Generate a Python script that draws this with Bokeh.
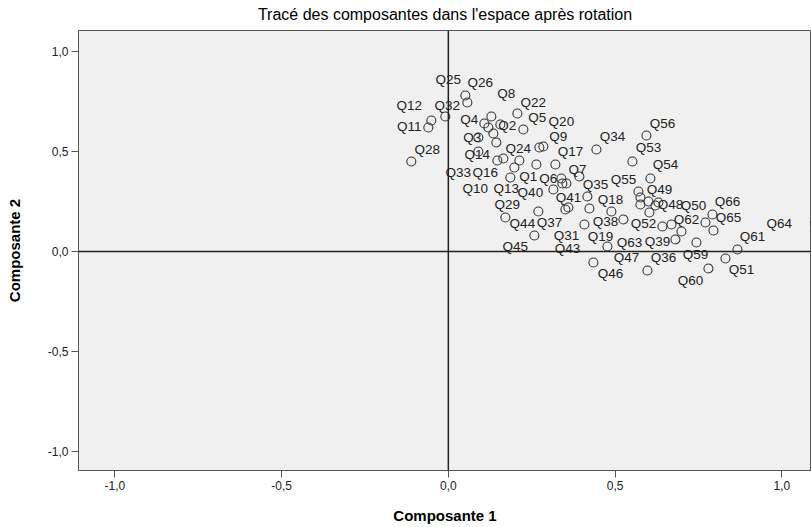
from bokeh.plotting import figure
from bokeh.models import ColumnDataSource, Span, FixedTicker, Title
from bokeh.core.properties import value
from bokeh.embed import file_html
from bokeh.resources import INLINE

questions = ["Q%d" % i for i in range(1, 67)]
hidden = {"Q15", "Q21", "Q23", "Q27", "Q30", "Q42", "Q57", "Q58"}

comp1 = [0.198, 0.135, 0.120, 0.108, 0.225, 0.264, 0.342, 0.129, 0.285, 0.147,
         -0.060, -0.051, 0.186, 0.090, 0.156, 0.144, 0.321, 0.417, 0.489, 0.273,
         0.213, 0.207, 0.339, 0.165, 0.057, 0.051, 0.354, -0.111, 0.171, 0.576,
         0.408, -0.009, 0.090, 0.444, 0.393, 0.597, 0.360, 0.423, 0.681, 0.315,
         0.351, 0.600, 0.477, 0.270, 0.258, 0.435, 0.525, 0.621, 0.576, 0.699,
         0.831, 0.603, 0.552, 0.606, 0.570, 0.594, 0.771, 0.630, 0.744, 0.780,
         0.867, 0.669, 0.642, 1.100, 0.795, 0.792]

comp2 = [0.420, 0.590, 0.620, 0.640, 0.610, 0.435, 0.340, 0.675, 0.525, 0.455,
         0.620, 0.655, 0.370, 0.570, 0.635, 0.545, 0.435, 0.275, 0.200, 0.520,
         0.455, 0.690, 0.365, 0.465, 0.745, 0.780, 0.340, 0.450, 0.170, 0.235,
         0.135, 0.675, 0.500, 0.510, 0.375, -0.095, 0.220, 0.215, 0.060, 0.310,
         0.210, 0.250, 0.025, 0.200, 0.080, -0.055, 0.160, 0.230, 0.270, 0.100,
         -0.035, 0.195, 0.450, 0.365, 0.300, 0.580, 0.145, 0.245, 0.045, -0.085,
         0.010, 0.135, 0.125, 0.140, 0.105, 0.185]

# label placement relative to each point (screen px, dy positive = down)
label_dx = [14, 14, -16, -15, 14, 12, 15, 15, 15, -22,
            -19, -22, -4, -1, 0, -11, 15, 23, -11, 22,
            0, 16, 0, 15, -19, 15, 0, 16, 2, 0,
            -18, 2, -20, 16, 16, 16, -19, 16, -18, -23,
            3, 0, -40, -16, -19, 17, 3, 15, 19, 12,
            16, -6, 16, 15, -15, 16, 0, 0, -1, -18,
            15, 15, -33, -36, 15, 15]
label_dy = [9, -8, 10, -4, -12, 14, -14, -23, -10, 28,
            -1, -15, 11, 17, 0, 30, -13, 3, 25, -26,
            0, -11, 0, -10, -23, -13, 0, -12, -13, 0,
            11, -11, 21, -13, 8, -13, 15, 13, 2, 3,
            -12, 0, 2, 12, 11, 11, 38, -1, -8, -26,
            11, 11, -14, -14, -12, -12, 0, 0, 12, 12,
            -13, -5, 16, 0, -13, -13]

tick_vals = [-1.0, -0.5, 0.0, 0.5, 1.0]
tick_text = ["-1,0", "-0,5", "0,0", "0,5", "1,0"]

shown = ["" if q in hidden else q for q in questions]
src = ColumnDataSource(dict(x=comp1, y=comp2, lab=shown, dx=label_dx, dy=label_dy))

p = figure(width=811, height=527, output_backend="svg", toolbar_location=None,
           x_range=(-1.109, 1.089), y_range=(-1.095, 1.105),
           min_border_left=78, min_border_right=0, min_border_top=30, min_border_bottom=57)

# spacer between the frame and the title
p.add_layout(Title(text=" ", text_font_size="6px", standoff=0), "above")

p.title.text = "Tracé des composantes dans l'espace après rotation"
p.title.align = "center"
p.title.text_font = "Liberation Sans"
p.title.text_font_size = "16px"
p.title.text_font_style = "normal"
p.title.text_color = "#000000"
p.title.standoff = 0

p.background_fill_color = "#f0f0f0"
p.border_fill_color = "white"
p.outline_line_color = "#555555"
p.outline_line_width = 1
p.grid.visible = False

for ax, lab in ((p.xaxis, "Composante 1"), (p.yaxis, "Composante 2")):
    ax.ticker = FixedTicker(ticks=tick_vals)
    ax.major_label_overrides = {v: t for v, t in zip(tick_vals, tick_text)}
    ax.axis_label = lab
    ax.axis_label_text_font = "Liberation Sans"
    ax.axis_label_text_font_style = "bold"
    ax.axis_label_text_font_size = "15px"
    ax.axis_label_text_color = "#000000"
    ax.major_label_text_font = "Liberation Sans"
    ax.major_label_text_font_size = "12px"
    ax.major_label_text_color = "#222222"
    ax.major_tick_out = 7
    ax.major_tick_in = 0
    ax.minor_tick_line_color = None
    ax.major_tick_line_color = "#555555"
    ax.axis_line_color = "#555555"
    ax.major_label_standoff = 3

p.yaxis.axis_label_standoff = 22
p.xaxis.axis_label_standoff = 14

p.add_layout(Span(location=0, dimension="height", line_color="#222222", line_width=1.5))
p.add_layout(Span(location=0, dimension="width", line_color="#222222", line_width=1.5))

p.scatter("x", "y", source=src, marker="circle", size=9, fill_color=None,
          line_color="#333333", line_width=1.1)
p.text("x", "y", text="lab", source=src, x_offset="dx", y_offset="dy",
       text_align="center", text_baseline="middle",
       text_font=value("Liberation Sans"), text_font_size="13.5px", text_color="#222222")

open("out.html", "w").write(file_html(p, INLINE))
